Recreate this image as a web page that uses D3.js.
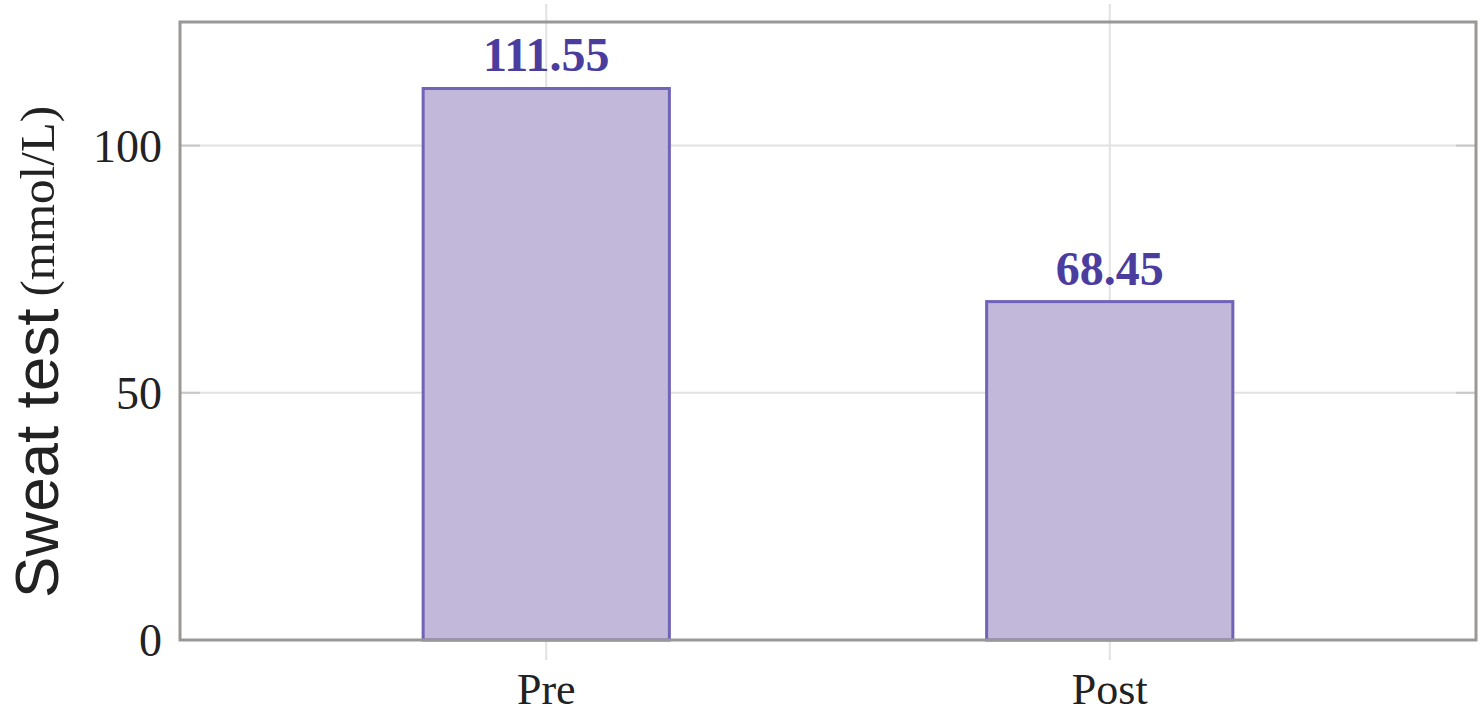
<!DOCTYPE html>
<html>
<head>
<meta charset="utf-8">
<script src="https://cdn.jsdelivr.net/npm/d3@7"></script>
<style>
  body { margin: 0; background: #fff; }
</style>
</head>
<body>
<div id="chart"></div>
<script>
// Data
var categories = ["Pre", "Post"];
var values = [111.55, 68.45];
var yTicks = [0, 50, 100];

var width = 1483;
var height = 718;
var margin = { top: 22, right: 7, bottom: 78, left: 180 };
var plotW = width - margin.left - margin.right;
var plotH = height - margin.top - margin.bottom;

var svg = d3.select("#chart")
  .append("svg")
  .attr("width", width)
  .attr("height", height);

var g = svg.append("g")
  .attr("transform", "translate(" + margin.left + "," + margin.top + ")");

// Scales
var x = d3.scalePoint()
  .domain(categories)
  .range([0, plotW])
  .padding(0.65);

var y = d3.scaleLinear()
  .domain([0, 125])
  .range([plotH, 0]);

var barW = x.step() * 0.437;

// Grid lines
g.selectAll(".hgrid")
  .data(yTicks.slice(1))
  .enter().append("line")
  .attr("x1", 0)
  .attr("x2", plotW)
  .attr("y1", function (d) { return y(d); })
  .attr("y2", function (d) { return y(d); })
  .attr("stroke", "#e2e2e2")
  .attr("stroke-width", 2);

g.selectAll(".vgrid")
  .data(categories)
  .enter().append("line")
  .attr("x1", function (d) { return x(d); })
  .attr("x2", function (d) { return x(d); })
  .attr("y1", -18)
  .attr("y2", plotH + 20)
  .attr("stroke", "#e2e2e2")
  .attr("stroke-width", 2);

// Y ticks (inside, both sides)
g.selectAll(".ytickL")
  .data(yTicks)
  .enter().append("line")
  .attr("x1", 0)
  .attr("x2", 20)
  .attr("y1", function (d) { return y(d); })
  .attr("y2", function (d) { return y(d); })
  .attr("stroke", "#c8c8c8")
  .attr("stroke-width", 2);

g.selectAll(".ytickR")
  .data(yTicks)
  .enter().append("line")
  .attr("x1", plotW - 20)
  .attr("x2", plotW)
  .attr("y1", function (d) { return y(d); })
  .attr("y2", function (d) { return y(d); })
  .attr("stroke", "#c8c8c8")
  .attr("stroke-width", 2);

// Bars
g.selectAll(".bar")
  .data(values)
  .enter().append("rect")
  .attr("x", function (d, i) { return x(categories[i]) - barW / 2; })
  .attr("y", function (d) { return y(d); })
  .attr("width", barW)
  .attr("height", function (d) { return plotH - y(d); })
  .attr("fill", "#c1b8da")
  .attr("stroke", "#7163b8")
  .attr("stroke-width", 3);

// Value labels
g.selectAll(".vlabel")
  .data(values)
  .enter().append("text")
  .attr("x", function (d, i) { return x(categories[i]); })
  .attr("y", function (d) { return y(d) - 17; })
  .attr("text-anchor", "middle")
  .style("font-family", "'Liberation Serif', 'DejaVu Serif', serif")
  .style("font-weight", "bold")
  .style("font-size", "48px")
  .style("fill", "#4a3d9e")
  .text(function (d) { return d.toFixed(2); });

// Frame
g.append("rect")
  .attr("x", 0)
  .attr("y", 0)
  .attr("width", plotW)
  .attr("height", plotH)
  .attr("fill", "none")
  .attr("stroke", "#9a9896")
  .attr("stroke-width", 3);

// Y tick labels
g.selectAll(".ylabel")
  .data(yTicks)
  .enter().append("text")
  .attr("x", -18)
  .attr("y", function (d) { return y(d); })
  .attr("dy", "0.35em")
  .attr("text-anchor", "end")
  .style("font-family", "'Liberation Serif', 'DejaVu Serif', serif")
  .style("font-size", "46px")
  .style("fill", "#222")
  .text(function (d) { return d; });

// X tick labels
g.selectAll(".xlabel")
  .data(categories)
  .enter().append("text")
  .attr("x", function (d) { return x(d); })
  .attr("y", plotH + 64)
  .attr("text-anchor", "middle")
  .style("font-family", "'Liberation Serif', 'DejaVu Serif', serif")
  .style("font-size", "44px")
  .style("fill", "#222")
  .text(function (d) { return d; });

// Y axis title
var yTitle = svg.append("text")
  .attr("transform", "translate(58,598) rotate(-90)")
  .attr("text-anchor", "start")
  .style("fill", "#222");

yTitle.append("tspan")
  .style("font-family", "'Liberation Sans', Arial, sans-serif")
  .style("font-size", "62px")
  .text("Sweat test");

yTitle.append("tspan")
  .attr("dx", 12)
  .attr("dy", -4)
  .style("font-family", "'Liberation Serif', 'DejaVu Serif', serif")
  .style("font-size", "49px")
  .text("(mmol/L)");
</script>
</body>
</html>
